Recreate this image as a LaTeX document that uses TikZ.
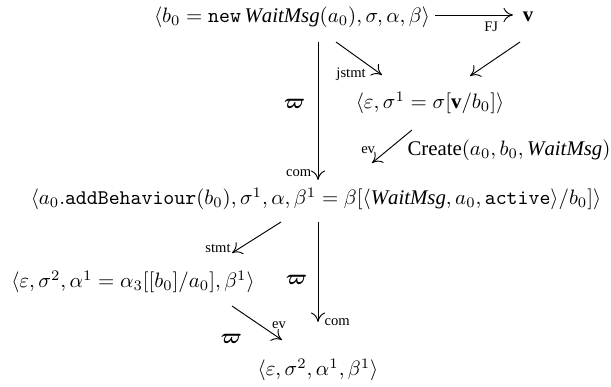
\documentclass[tikz,border=0pt]{standalone}
\usepackage{amsmath}
\usepackage{fontspec}
\setmainfont{Liberation Serif}
\usepackage{tikz}
\usetikzlibrary{arrows.meta,calc,positioning}
\newcommand{\wm}{\mathit{WaitMsg}}
\newcommand{\bvarpi}{\boldsymbol{\varpi}}
\tikzset{
  state/.style={inner sep=0pt, font=\normalsize},
  transarrow/.style={-{To[length=1.6mm,width=2.4mm]}, line width=0.45pt},
  rulelabel/.style={font=\scriptsize, inner sep=1pt},
  obslabel/.style={inner sep=1pt},
}

\begin{document}
\begin{tikzpicture}[x=0.48pt,y=-0.48pt]
  \useasboundingbox (0,0) rectangle (611,387);
  \node[state] (s0) at (292,17) {$\langle b_0 = \texttt{new}\,\wm(a_0), \sigma, \alpha, \beta\rangle$};
  \node[state] (val) at (528,17) {$\mathbf{v}$};
  \node[state] (s1) at (430,103) {$\langle \varepsilon, \sigma^1 = \sigma[\mathbf{v}/b_0]\rangle$};
  \node[state] (s2) at (316,199) {$\langle a_0.\texttt{addBehaviour}(b_0), \sigma^1, \alpha, \beta^1 = \beta[\langle \wm, a_0, \texttt{active}\rangle/b_0]\rangle$};
  \node[state] (s3) at (133,282) {$\langle \varepsilon, \sigma^2, \alpha^1 = \alpha_3[[b_0]/a_0], \beta^1\rangle$};
  \node[state] (s4) at (318,370) {$\langle \varepsilon, \sigma^2, \alpha^1, \beta^1\rangle$};
  \node[state] (evt) at (509,150) {Create$(a_0, b_0, \wm)$};

  \draw[transarrow] ($(s0)+(143,-2)$) -- node[rulelabel, below=2pt, pos=0.72]{FJ} ($(val)+(-15,-2)$);
  \draw[transarrow] ($(s0)+(44,25)$) -- node[rulelabel, below left, pos=0.7]{jstmt} ($(s1)+(-48,-28)$);
  \draw[transarrow] ($(val)+(-8,25)$) -- ($(s1)+(40,-27)$);
  \draw[transarrow] ($(s0)+(26,25)$) -- node[obslabel, left=5pt, pos=0.45]{$\bvarpi$}
    node[rulelabel, left=2pt, pos=0.95]{com} ($(s2)+(2,-19)$);
  \draw[transarrow] ($(s1)+(-18,27)$) -- node[rulelabel, left=5pt, pos=0.6]{ev} ($(s2)+(56,-36)$);
  \draw[transarrow] ($(s2)+(-35,23)$) -- node[rulelabel, left=3pt, pos=0.85]{stmt} ($(s3)+(99,-29)$);
  \draw[transarrow] ($(s2)+(2,23)$) -- node[obslabel, left=4pt, pos=0.58]{$\bvarpi$}
    node[rulelabel, right=2pt, pos=1]{com} ($(s4)+(0,-48)$);
  \draw[transarrow] ($(s3)+(99,24)$) -- node[obslabel, below left=4pt and 6pt, pos=0.5]{$\bvarpi$}
    node[rulelabel, above right, pos=0.75]{ev} ($(s4)+(-36,-30)$);
\end{tikzpicture}
\end{document}
